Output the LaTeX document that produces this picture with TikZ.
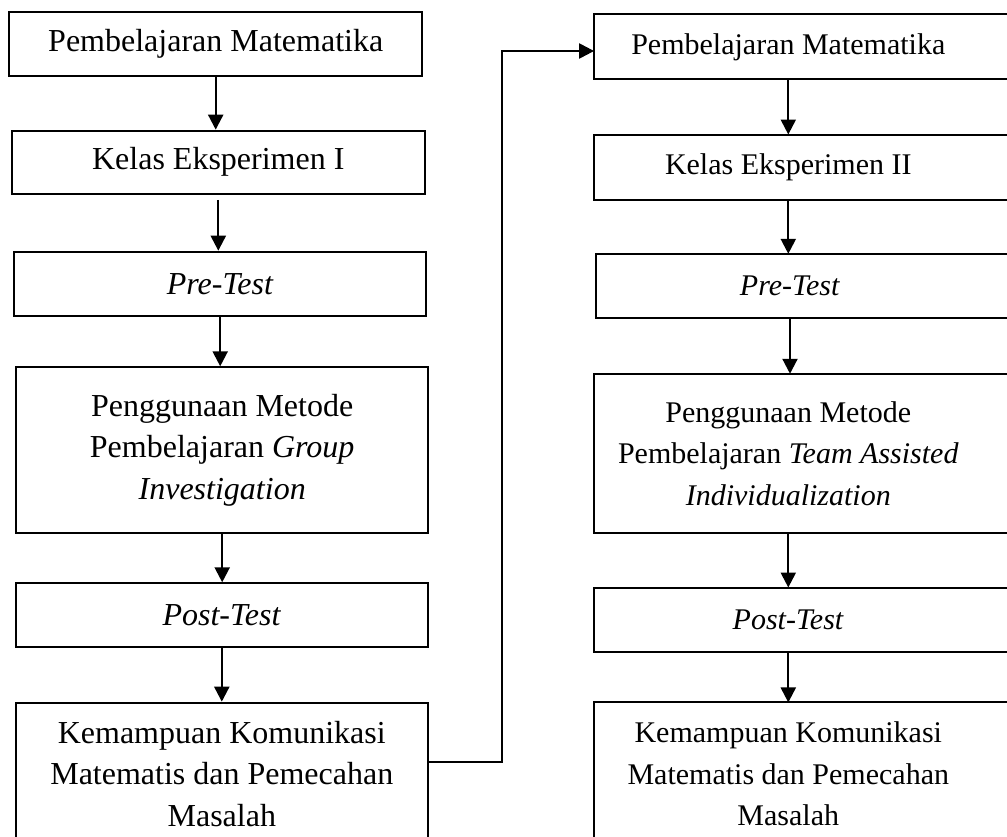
\documentclass[tikz,border=0pt]{standalone}
\usepackage{fontspec}
\setmainfont{Liberation Serif}
\usetikzlibrary{arrows.meta}
\tikzset{
  box/.style={draw, line width=2pt, minimum width=412.5pt, inner sep=0pt, align=center,
    font=\fontsize{32pt}{41.5pt}\selectfont},
  rbox/.style={inner sep=0pt, minimum width=388pt, align=center,
    font=\fontsize{30pt}{41.5pt}\selectfont},
  frame/.style={draw, line width=2pt},
  flow/.style={line width=2.2pt, -{Triangle[length=15pt,width=15pt]}}
}
\begin{document}
\begin{tikzpicture}[x=1pt,y=-1pt]
\useasboundingbox (0,0) rectangle (1007,836);
% left column
\node[box, minimum height=64pt] (L1) at (215.7,44) {Pembelajaran Matematika};
\node[box, minimum height=63.3pt] (L2) at (218.3,162.3) {Kelas Eksperimen I};
\node[box, minimum height=64pt] (L3) at (220.2,283.7) {\textit{Pre-Test}};
\node[box, minimum height=165.4pt] (L4) at (222.2,450) {Penggunaan Metode\\Pembelajaran \textit{Group}\\\textit{Investigation}};
\node[box, minimum height=64pt] (L5) at (221.8,615.3) {\textit{Post-Test}};
\node[box, minimum height=142.3pt] (L6) at (221.8,773.8) {Kemampuan Komunikasi\\Matematis dan Pemecahan\\Masalah};
% right column
\node[rbox, minimum height=64.3pt] (R1) at (788.3,46.8) {Pembelajaran Matematika};
\node[rbox, minimum height=64.6pt] (R2) at (788.3,167) {Kelas Eksperimen II};
\node[rbox, minimum height=64pt] (R3) at (790,286) {\textit{Pre-Test}};
\node[rbox, minimum height=158.7pt] (R4) at (788.3,453.3) {Penggunaan Metode\\Pembelajaran \textit{Team Assisted}\\\textit{Individualization}};
\node[rbox, minimum height=64pt] (R5) at (788.3,619.7) {\textit{Post-Test}};
\node[rbox, minimum height=142.3pt] (R6) at (788.3,773.8) {Kemampuan Komunikasi\\Matematis dan Pemecahan\\Masalah};
\foreach \n in {R1,R2,R3,R4,R5,R6}
  \draw[frame] (\n.north west) rectangle ([xshift=40pt]\n.south east);
% left arrows
\draw[flow] (L1.south) -- (L1.south |- L2.north);
\draw[flow] ([yshift=-5pt]L2.south) -- (L2.south |- L3.north);
\draw[flow] (L3.south) -- (L3.south |- L4.north);
\draw[flow] (L4.south) -- (L4.south |- L5.north);
\draw[flow] (L5.south) -- (L5.south |- L6.north);
% right arrows
\draw[flow] (R1.south) -- (R1.south |- R2.north);
\draw[flow] (R2.south) -- (R2.south |- R3.north);
\draw[flow] (R3.south) -- (R3.south |- R4.north);
\draw[flow] (R4.south) -- (R4.south |- R5.north);
\draw[flow] (R5.south) -- (R5.south |- R6.north);
% connector
\coordinate (c1) at (502,761.7);
\coordinate (c2) at (502,51);
\draw[flow] (L6.east |- c1) -- (c1) -- (c2) -- (R1.west |- c2);
\end{tikzpicture}
\end{document}
